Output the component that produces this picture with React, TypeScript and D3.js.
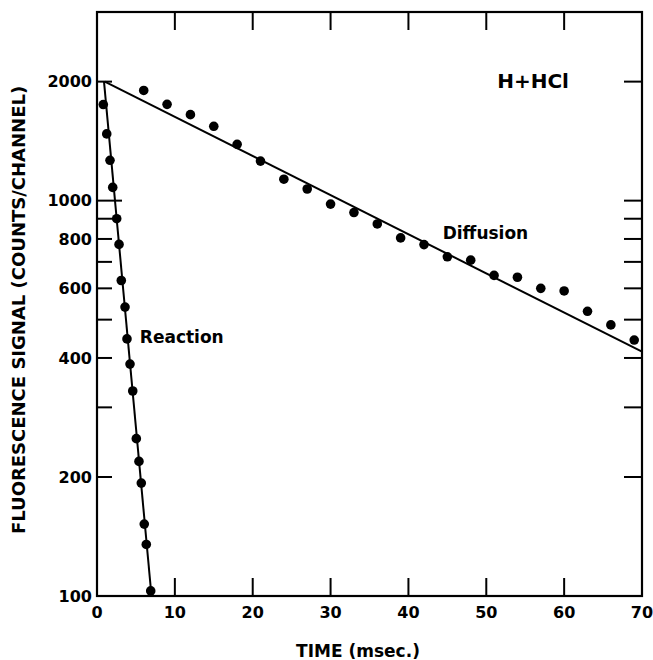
import * as d3 from "d3";
import React, {useEffect, useRef} from "react";

// reaction decay points (msec, counts/channel)
const reactionTime = [0.81, 1.25, 1.67, 2.02, 2.53, 2.83, 3.12, 3.6, 3.85, 4.24, 4.59, 5.05, 5.39, 5.69, 6.07, 6.33, 6.9]
const reactionSignal = [1750, 1475, 1265, 1080, 900, 775, 628, 538, 447, 386, 330, 250, 219, 193, 152, 135, 103]

// diffusion decay points
const diffusionTime = [6, 9, 12, 15, 18, 21, 24, 27, 30, 33, 36, 39, 42, 45, 48, 51, 54, 57, 60, 63, 66, 69]
const diffusionSignal = [1900, 1752, 1650, 1542, 1388, 1259, 1133, 1070, 980, 933, 873, 805, 774, 721, 707, 647, 640, 600, 591, 525, 485, 444]

// fitted straight lines on the log plot
const reactionFit = [[0.9, 2000], [7.0, 100]]
const diffusionFit = [[1.0, 2000], [70, 415]]

const xTicks = [0, 10, 20, 30, 40, 50, 60, 70]
const yLabelTicks = [100, 200, 400, 600, 800, 1000, 2000]
const yMinorTicks = [300, 500, 700, 900]

const annotations = [
    {text: "H+HCl", t: 51.4, v: 1930, size: 20},
    {text: "Diffusion", t: 44.4, v: 800, size: 17},
    {text: "Reaction", t: 5.5, v: 436, size: 17}
]

const App = () => {
    const svgRef = useRef(null)

    useEffect(() => {
        const width = 653
        const height = 660
        const left = 97, right = 642, top = 12, bottom = 596
        const font = "'DejaVu Sans', sans-serif"

        const svg = d3.select(svgRef.current)
        svg.selectAll("*").remove()
        svg.attr("width", width).attr("height", height)

        svg.append("rect").attr("width", width).attr("height", height).attr("fill", "#fff")

        const x = d3.scaleLinear().domain([0, 70]).range([left, right])
        const y = d3.scaleLog().domain([100, 3000]).range([bottom, top])

        // ticks pointing inward on all four sides
        const g = svg.append("g").attr("stroke", "#000").attr("stroke-width", 2)
        const innerX = xTicks.filter(d => d > 0 && d < 70)
        g.selectAll(".xb").data(innerX).join("line")
            .attr("x1", d => x(d)).attr("x2", d => x(d))
            .attr("y1", bottom).attr("y2", bottom - 18)
        g.selectAll(".xt").data(innerX).join("line")
            .attr("x1", d => x(d)).attr("x2", d => x(d))
            .attr("y1", top).attr("y2", top + 18)

        const yAll = yLabelTicks.concat(yMinorTicks).filter(d => d > 100)
        g.selectAll(".yl").data(yAll).join("line")
            .attr("x1", left).attr("x2", d => left + (d === 1000 ? 25 : 15))
            .attr("y1", d => y(d)).attr("y2", d => y(d))
        g.selectAll(".yr").data(yAll).join("line")
            .attr("x1", right).attr("x2", right - 18)
            .attr("y1", d => y(d)).attr("y2", d => y(d))

        // frame
        svg.append("rect")
            .attr("x", left).attr("y", top)
            .attr("width", right - left).attr("height", bottom - top)
            .attr("fill", "none").attr("stroke", "#000").attr("stroke-width", 2.2)

        // tick labels
        svg.append("g").selectAll("text").data(xTicks).join("text")
            .attr("x", d => x(d)).attr("y", bottom + 22)
            .attr("text-anchor", "middle")
            .attr("font-family", font).attr("font-weight", "bold").attr("font-size", 16)
            .text(d => d)

        svg.append("g").selectAll("text").data(yLabelTicks).join("text")
            .attr("x", left - 5).attr("y", d => y(d))
            .attr("dy", "0.36em")
            .attr("text-anchor", "end")
            .attr("font-family", font).attr("font-weight", "bold").attr("font-size", 16)
            .text(d => d)

        // axis titles
        svg.append("text")
            .attr("x", 358).attr("y", 657)
            .attr("text-anchor", "middle")
            .attr("font-family", font).attr("font-weight", "bold").attr("font-size", 17)
            .text("TIME (msec.)")

        svg.append("text")
            .attr("transform", "translate(25,310) rotate(-90)")
            .attr("text-anchor", "middle")
            .attr("font-family", font).attr("font-weight", "bold").attr("font-size", 18)
            .text("FLUORESCENCE SIGNAL (COUNTS/CHANNEL)")

        // fit lines
        const line = d3.line().x(d => x(d[0])).y(d => y(d[1]))
        svg.append("path").attr("d", line(reactionFit))
            .attr("fill", "none").attr("stroke", "#000").attr("stroke-width", 2)
        svg.append("path").attr("d", line(diffusionFit))
            .attr("fill", "none").attr("stroke", "#000").attr("stroke-width", 2)

        // data points
        svg.append("g").selectAll("circle").data(reactionTime).join("circle")
            .attr("cx", d => x(d)).attr("cy", (d, i) => y(reactionSignal[i]))
            .attr("r", 4.8).attr("fill", "#000")
        svg.append("g").selectAll("circle").data(diffusionTime).join("circle")
            .attr("cx", d => x(d)).attr("cy", (d, i) => y(diffusionSignal[i]))
            .attr("r", 4.8).attr("fill", "#000")

        // annotations
        svg.append("g").selectAll("text").data(annotations).join("text")
            .attr("x", d => x(d.t)).attr("y", d => y(d.v))
            .attr("font-family", font).attr("font-weight", "bold")
            .attr("font-size", d => d.size)
            .text(d => d.text)
    }, [])

    return (
        <div style={{position: "absolute", left: 0, top: 0}}>
            <svg ref={svgRef}/>
        </div>
    )
}

export default App;
